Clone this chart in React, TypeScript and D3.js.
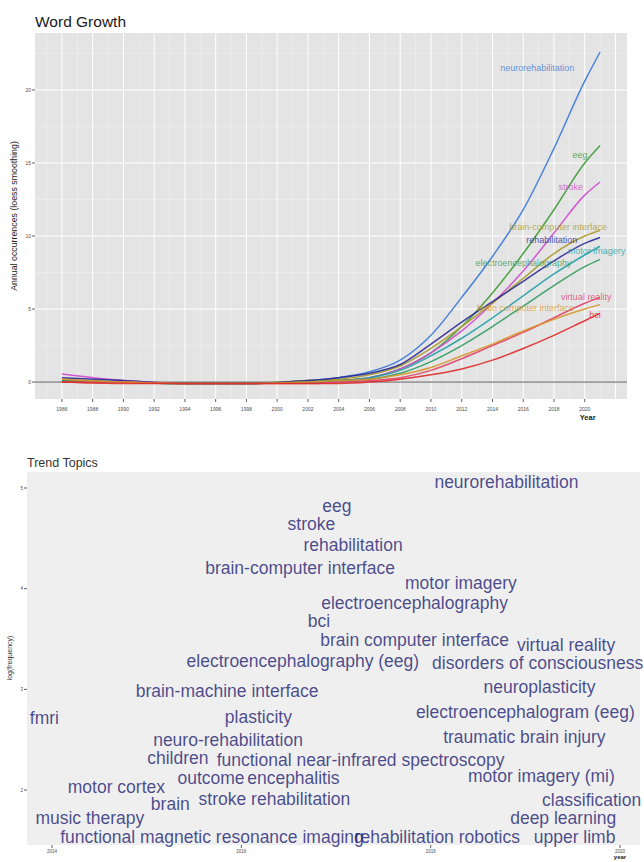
import React from "react";
import * as d3 from "d3";

// ---- Word Growth data (loess-smoothed annual occurrences) ----
const years = [1986, 1990, 1994, 1998, 2002, 2004, 2006, 2008, 2010, 2012, 2014, 2016, 2018, 2020, 2021];

const terms = [
  "neurorehabilitation",
  "eeg",
  "stroke",
  "brain-computer interface",
  "rehabilitation",
  "motor imagery",
  "electroencephalography",
  "virtual reality",
  "brain computer interface",
  "bci",
];

const neurorehabilitation = [0.1, 0.0, -0.1, -0.1, 0.1, 0.3, 0.7, 1.5, 3.2, 5.8, 8.6, 11.8, 16.0, 20.6, 22.6];
const eeg = [0.1, 0.0, -0.1, -0.1, 0.0, 0.1, 0.3, 0.9, 2.0, 3.8, 6.1, 8.8, 11.8, 15.0, 16.2];
const stroke = [0.55, 0.1, -0.1, -0.1, 0.0, 0.1, 0.3, 0.9, 2.0, 3.5, 5.4, 7.6, 10.2, 12.8, 13.7];
const brainComputerInterface = [0.2, 0.0, -0.1, -0.1, 0.1, 0.2, 0.5, 1.1, 2.3, 3.8, 5.4, 7.1, 8.8, 10.0, 10.4];
const rehabilitation = [0.3, 0.1, -0.1, -0.1, 0.1, 0.3, 0.6, 1.2, 2.6, 4.1, 5.5, 6.9, 8.3, 9.5, 9.9];
const motorImagery = [0.0, 0.0, -0.1, -0.1, 0.0, 0.1, 0.3, 0.8, 1.8, 3.0, 4.4, 5.9, 7.4, 8.7, 9.3];
const electroencephalography = [0.1, 0.0, -0.1, -0.1, 0.0, 0.1, 0.2, 0.6, 1.4, 2.5, 3.8, 5.2, 6.6, 7.9, 8.4];
const virtualReality = [0.0, 0.0, -0.1, -0.1, -0.1, 0.0, 0.1, 0.3, 0.8, 1.6, 2.5, 3.4, 4.4, 5.4, 5.8];
const brainComputerInterfaceAlt = [0.2, 0.0, -0.1, -0.1, 0.0, 0.1, 0.2, 0.5, 1.0, 1.8, 2.6, 3.5, 4.3, 5.0, 5.3];
const bci = [0.0, -0.1, -0.1, -0.1, -0.1, -0.1, 0.0, 0.2, 0.5, 0.9, 1.5, 2.3, 3.2, 4.2, 4.7];

const series = [
  neurorehabilitation,
  eeg,
  stroke,
  brainComputerInterface,
  rehabilitation,
  motorImagery,
  electroencephalography,
  virtualReality,
  brainComputerInterfaceAlt,
  bci,
];

// where each repelled label sits (year, value)
const labelYears = [2014.5, 2019.2, 2018.3, 2015.1, 2016.2, 2018.9, 2012.9, 2018.45, 2013.0, 2020.3];
const labelValues = [21.5, 15.55, 13.4, 10.6, 9.75, 8.95, 8.15, 5.8, 5.07, 4.6];

const growthTicks = [0, 5, 10, 15, 20];
const yearTicks = d3.range(1986, 2021, 2);

const colors = [
  "#3a78d8",
  "#3c9a32",
  "#cf48cf",
  "#a89a2e",
  "#2c2a96",
  "#22a0a8",
  "#2f9a5e",
  "#e0406a",
  "#d8962a",
  "#e02828",
];

// ---- Trend Topics data ----
const topicWords = [
  "neurorehabilitation",
  "eeg",
  "stroke",
  "rehabilitation",
  "brain-computer interface",
  "motor imagery",
  "electroencephalography",
  "bci",
  "brain computer interface",
  "virtual reality",
  "electroencephalography (eeg)",
  "disorders of consciousness",
  "neuroplasticity",
  "brain-machine interface",
  "electroencephalogram (eeg)",
  "fmri",
  "plasticity",
  "traumatic brain injury",
  "neuro-rehabilitation",
  "children",
  "functional near-infrared spectroscopy",
  "motor imagery (mi)",
  "motor cortex",
  "outcome",
  "encephalitis",
  "brain",
  "stroke rehabilitation",
  "classification",
  "music therapy",
  "deep learning",
  "functional magnetic resonance imaging",
  "rehabilitation robotics",
  "upper limb",
];
const topicYears = [
  2018.8, 2017.01, 2016.74, 2017.18, 2016.62, 2018.32, 2017.83, 2016.82, 2017.83, 2019.43, 2016.65,
  2019.13, 2019.15, 2015.85, 2019.0, 2013.92, 2016.18, 2018.99, 2015.86, 2015.33, 2017.26, 2019.17,
  2014.68, 2015.68, 2016.55, 2015.25, 2016.35, 2019.7, 2014.4, 2019.4, 2015.69, 2018.07, 2019.52,
];
const topicLogFreq = [
  5.06, 4.82, 4.64, 4.44, 4.21, 4.06, 3.86, 3.68, 3.49, 3.44, 3.28, 3.26, 3.02, 2.98, 2.78, 2.72,
  2.73, 2.53, 2.5, 2.32, 2.3, 2.14, 2.03, 2.12, 2.12, 1.86, 1.91, 1.9, 1.72, 1.72, 1.53, 1.53, 1.53,
];
const topicYearTicks = [2014, 2016, 2018, 2020];
const topicFreqTicks = [2, 3, 4, 5];

const FONT = "'Liberation Sans', Arial, Helvetica, sans-serif";

function WordGrowth() {
  const left = 35;
  const right = 627;
  const top = 33;
  const bottom = 399;

  const x = d3.scaleLinear().domain([1984.25, 2022.75]).range([left, right]);
  const y = d3.scaleLinear().domain([-1.16, 23.9]).range([bottom, top]);

  const minorX = d3.range(1985, 2023, 2).filter((v) => v > 1984.25 && v < 2022.75);
  const majorX = d3.range(1986, 2023, 2).filter((v) => v < 2022.75);
  const minorY = [2.5, 7.5, 12.5, 17.5, 22.5];

  const line = d3
    .line<number>()
    .x((_, i) => x(years[i]))
    .y((d) => y(d))
    .curve(d3.curveMonotoneX);

  return (
    <g fontFamily={FONT}>
      <text x={35} y={27} fontSize={15.5} fill="#1a1a1a">
        Word Growth
      </text>
      <rect x={left} y={top} width={right - left} height={bottom - top} fill="#e4e4e4" />
      {minorX.map((v) => (
        <line key={"mx" + v} x1={x(v)} x2={x(v)} y1={top} y2={bottom} stroke="#f2f2f2" strokeWidth={0.5} />
      ))}
      {minorY.map((v) => (
        <line key={"my" + v} x1={left} x2={right} y1={y(v)} y2={y(v)} stroke="#f2f2f2" strokeWidth={0.5} />
      ))}
      {majorX.map((v) => (
        <line key={"gx" + v} x1={x(v)} x2={x(v)} y1={top} y2={bottom} stroke="#ffffff" strokeWidth={1} />
      ))}
      {growthTicks.map((v) => (
        <line key={"gy" + v} x1={left} x2={right} y1={y(v)} y2={y(v)} stroke="#ffffff" strokeWidth={1} />
      ))}
      <line x1={left} x2={right} y1={y(0)} y2={y(0)} stroke="#5a5a5a" strokeWidth={1} />

      {series.map((s, i) => (
        <path key={terms[i]} d={line(s) || ""} fill="none" stroke={colors[i]} strokeWidth={1.5} strokeOpacity={0.9} />
      ))}

      {terms.map((t, i) => (
        <text
          key={"lab" + t}
          x={x(labelYears[i])}
          y={y(labelValues[i])}
          dy="0.35em"
          fontSize={9}
          fill={colors[i]}
          fillOpacity={0.8}
        >
          {t}
        </text>
      ))}

      {growthTicks.map((v) => (
        <g key={"yt" + v}>
          <line x1={left - 3} x2={left} y1={y(v)} y2={y(v)} stroke="#333" strokeWidth={0.8} />
          <text x={left - 4} y={y(v)} dy="0.35em" textAnchor="end" fontSize={5} fill="#4d4d4d">
            {v}
          </text>
        </g>
      ))}
      {yearTicks.map((v) => (
        <g key={"xt" + v}>
          <line x1={x(v)} x2={x(v)} y1={bottom} y2={bottom + 3} stroke="#333" strokeWidth={0.8} />
          <text x={x(v)} y={bottom + 12} textAnchor="middle" fontSize={5} fill="#4d4d4d">
            {v}
          </text>
        </g>
      ))}
      <text x={x(2020) + 3} y={bottom + 21} textAnchor="middle" fontSize={7.5} fontWeight="bold" fill="#222">
        Year
      </text>
      <text
        transform={`translate(17, ${(top + bottom) / 2}) rotate(-90)`}
        textAnchor="middle"
        fontSize={8.8}
        fill="#222"
      >
        Annual occurrences (loess smoothing)
      </text>
    </g>
  );
}

function TrendTopics() {
  const left = 27;
  const right = 640;
  const top = 472;
  const bottom = 845;

  const x = d3.scaleLinear().domain([2013.736, 2020.19]).range([27, 638]);
  const y = d3.scaleLinear().domain([1.454, 5.159]).range([bottom, top]);

  return (
    <g fontFamily={FONT}>
      <text x={27} y={467} fontSize={12.5} fill="#333">
        Trend Topics
      </text>
      <rect x={left} y={top} width={right - left} height={bottom - top} fill="#efeff0" />

      {topicWords.map((w, i) => (
        <text
          key={w}
          x={x(topicYears[i])}
          y={y(topicLogFreq[i])}
          dy="0.35em"
          textAnchor="middle"
          fontSize={17.5}
          fill="#1e1e70"
          fillOpacity={0.8}
        >
          {w}
        </text>
      ))}

      {topicFreqTicks.map((v) => (
        <g key={"ft" + v}>
          <line x1={left - 3} x2={left} y1={y(v)} y2={y(v)} stroke="#333" strokeWidth={0.8} />
          <text x={left - 4} y={y(v)} dy="0.35em" textAnchor="end" fontSize={4.5} fill="#4d4d4d">
            {v}
          </text>
        </g>
      ))}
      {topicYearTicks.map((v) => (
        <g key={"tt" + v}>
          <line x1={x(v)} x2={x(v)} y1={bottom} y2={bottom + 3} stroke="#333" strokeWidth={0.8} />
          <text x={x(v)} y={bottom + 8} textAnchor="middle" fontSize={4.5} fill="#4d4d4d">
            {v}
          </text>
        </g>
      ))}
      <text x={x(2020)} y={bottom + 14} textAnchor="middle" fontSize={6} fontWeight="bold" fill="#222">
        year
      </text>
      <text transform={`translate(12, 658) rotate(-90)`} textAnchor="middle" fontSize={7} fill="#333">
        log(frequency)
      </text>
    </g>
  );
}

export default function App() {
  return (
    <svg
      width={644}
      height={862}
      viewBox="0 0 644 862"
      style={{ position: "absolute", left: 0, top: 0, background: "#ffffff", display: "block" }}
    >
      <rect x={0} y={0} width={644} height={862} fill="#ffffff" />
      <WordGrowth />
      <TrendTopics />
    </svg>
  );
}
